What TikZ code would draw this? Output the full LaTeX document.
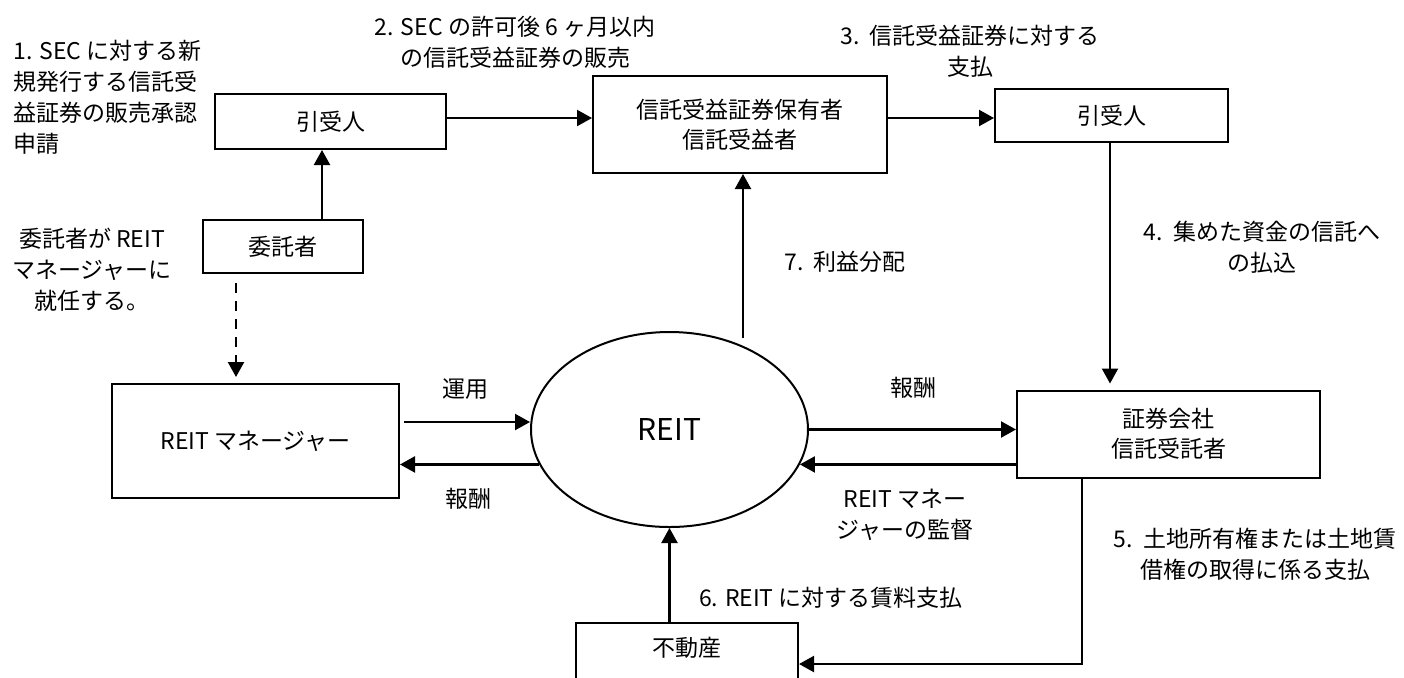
\documentclass[tikz,border=0pt]{standalone}
\usepackage{fontspec}
\setmainfont{Noto Sans CJK JP}
\usetikzlibrary{arrows.meta,shapes.geometric,calc}
\tikzset{
  boxnode/.style={draw,line width=1pt,rectangle,inner sep=0pt,font=\fontsize{11.5pt}{15pt}\selectfont,align=center},
  lbl/.style={inner sep=0pt,font=\fontsize{11.5pt}{15.5pt}\selectfont,align=center},
  arr/.style={line width=1.1pt,-{Triangle[length=7.5pt,width=8pt]}},
  darr/.style={line width=1.1pt,dash pattern=on 5pt off 4pt,-{Triangle[length=7.5pt,width=8pt]}}
}
\begin{document}
\begin{tikzpicture}[x=0.5pt,y=-0.5pt]
\clip (0,0) rectangle (1404,677);
\fill[white] (0,0) rectangle (1404,677);
% boxes
\node[boxnode,minimum width=115.5pt,minimum height=27.5pt] (uwa) at (330.5,121.5) {引受人};
\node[boxnode,minimum width=80pt,minimum height=26.5pt] (itaku) at (283,246.5) {委託者};
\node[boxnode,minimum width=147pt,minimum height=48.5pt] (holder) at (740,124.5) {信託受益証券保有者\\信託受益者};
\node[boxnode,minimum width=116.5pt,minimum height=26.5pt] (uwb) at (1111.5,115.5) {引受人};
\node[boxnode,minimum width=143.5pt,minimum height=57pt] (mgr) at (255.5,441) {REIT マネージャー};
\node[draw,line width=1pt,ellipse,inner sep=0pt,minimum width=138.5pt,minimum height=97.5pt,font=\fontsize{15pt}{18pt}\selectfont] (reit) at (669.5,429.5) {REIT};
\node[boxnode,minimum width=151.5pt,minimum height=43.5pt] (trustee) at (1168.5,434) {証券会社\\信託受託者};
\node[boxnode,minimum width=111pt,minimum height=41pt,anchor=north] (estate) at (687,622) {};
\node[lbl] (estatel) at (687,648) {不動産};
% helper coordinates
\coordinate (x322) at (322,0);
\coordinate (y118) at (0,118);
\coordinate (x1110) at (1110,0);
\coordinate (x743) at (743,338);
\coordinate (y422) at (404,422);
\coordinate (x1082) at (1082,0);
\coordinate (dstart) at (236,283);
% connectors
\draw[arr] (itaku.north -| x322) -- (uwa.south -| x322);
\draw[arr] (uwa.east |- y118) -- (holder.west |- y118);
\draw[arr] (holder.east |- y118) -- (uwb.west |- y118);
\draw[arr,shorten >=3pt] (uwb.south -| x1110) -- (trustee.north -| x1110);
\draw[arr] (x743) -- (holder.south -| x743);
\draw[darr,shorten >=3pt] (dstart) -- (mgr.north -| dstart);
\draw[arr] (y422) -- (y422 -| reit.west);
\draw[arr] (reit.195) -- (reit.195 -| mgr.east);
\draw[arr] (reit.east) -- (reit.east -| trustee.west);
\draw[arr] (reit.345 -| trustee.west) -- (reit.345);
\draw[arr] (estate.north -| reit.south) -- (reit.south);
\draw[arr] (trustee.south -| x1082) |- (estate.east);
% labels
\node[lbl,align=left,anchor=west] (l1) at (13,97) {1. SEC に対する新\\規発行する信託受\\益証券の販売承認\\申請};
\node[lbl] (l2) at (515,42.5) {2. SEC の許可後 6 ヶ月以内\\の信託受益証券の販売};
\node[lbl] (l3) at (970,51) {3.\hspace{0.45em}信託受益証券に対する\\支払};
\node[lbl] (l4) at (1262,247) {4.\hspace{0.45em}集めた資金の信託へ\\の払込};
\node[lbl] (l5) at (1255,554.5) {5.\hspace{0.45em}土地所有権または土地賃\\借権の取得に係る支払};
\node[lbl] (l6) at (831,598) {6. REIT に対する賃料支払};
\node[lbl] (l7) at (845,262) {7.\hspace{0.45em}利益分配};
\node[lbl] (lop) at (465,389) {運用};
\node[lbl] (lfee1) at (468,499) {報酬};
\node[lbl] (lfee2) at (913,388) {報酬};
\node[lbl] (lsup) at (905,515) {REIT マネー\\ジャーの監督};
\node[lbl] (lappt) at (92,270) {委託者が REIT\\マネージャーに\\就任する。};
\end{tikzpicture}
\end{document}
